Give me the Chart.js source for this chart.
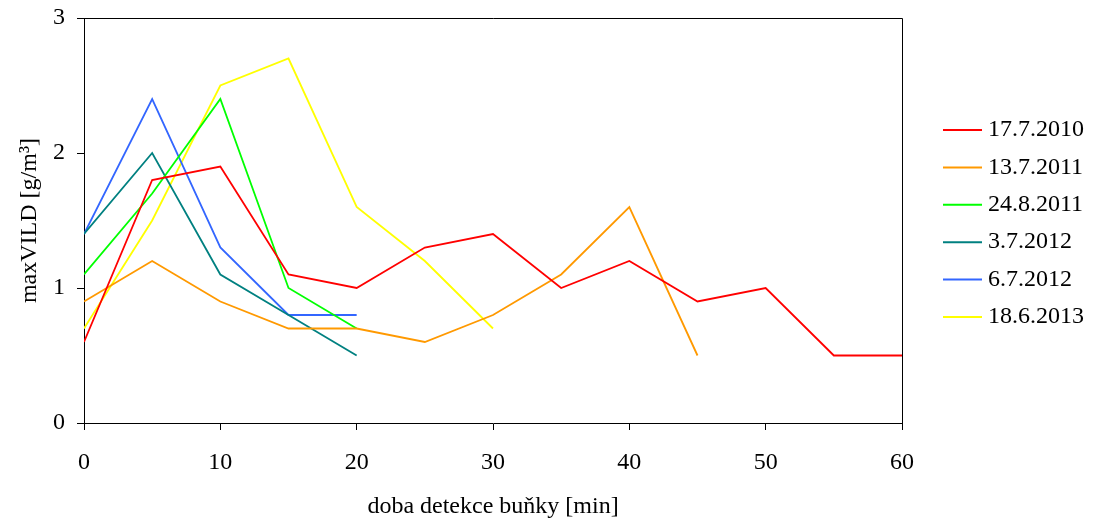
<!DOCTYPE html>
<html>
<head>
<meta charset="utf-8">
<script src="https://cdn.jsdelivr.net/npm/chart.js@4"></script>
<style>
  body { margin: 0; background: #fff; }
  #wrap { width: 1098px; height: 525px; }
</style>
</head>
<body>
<div id="wrap"><canvas id="vildChart"></canvas></div>
<script>
// doba detekce (min)
const minutes = [0, 5, 10, 15, 20, 25, 30, 35, 40, 45, 50, 55, 60];

// maxVILD pro jednotlivé dny
const vild_17_7_2010 = [0.6, 1.8, 1.9, 1.1, 1.0, 1.3, 1.4, 1.0, 1.2, 0.9, 1.0, 0.5, 0.5];
const vild_13_7_2011 = [0.9, 1.2, 0.9, 0.7, 0.7, 0.6, 0.8, 1.1, 1.6, 0.5];
const vild_24_8_2011 = [1.1, 1.7, 2.4, 1.0, 0.7];
const vild_3_7_2012 = [1.4, 2.0, 1.1, 0.8, 0.5];
const vild_6_7_2012 = [1.4, 2.4, 1.3, 0.8, 0.8];
const vild_18_6_2013 = [0.7, 1.5, 2.5, 2.7, 1.6, 1.2, 0.7];

const seriesNames = ["17.7.2010", "13.7.2011", "24.8.2011", "3.7.2012", "6.7.2012", "18.6.2013"];
const seriesValues = [vild_17_7_2010, vild_13_7_2011, vild_24_8_2011, vild_3_7_2012, vild_6_7_2012, vild_18_6_2013];
const seriesColors = ["#ff0000", "#ff9900", "#00ff00", "#008080", "#3366ff", "#ffff00"];

const serif = "'Liberation Serif', 'Times New Roman', serif";

// rámeček kolem plochy grafu
const frame = {
  id: "frame",
  afterDraw(chart) {
    const a = chart.chartArea;
    const ctx = chart.ctx;
    ctx.save();
    ctx.strokeStyle = "#000";
    ctx.lineWidth = 1;
    ctx.beginPath();
    ctx.moveTo(Math.round(a.left), Math.round(a.top) + 0.5);
    ctx.lineTo(Math.round(a.right) + 0.5, Math.round(a.top) + 0.5);
    ctx.lineTo(Math.round(a.right) + 0.5, Math.round(a.bottom));
    ctx.stroke();
    ctx.restore();
  },
};

// legenda vpravo od grafu
const sideLegend = {
  id: "sideLegend",
  afterDraw(chart) {
    const ctx = chart.ctx;
    const x0 = chart.chartArea.right + 41;
    ctx.save();
    ctx.font = "24px " + serif;
    ctx.textBaseline = "middle";
    ctx.fillStyle = "#000";
    chart.data.datasets.forEach((ds, i) => {
      const y = 130 + i * 37.4;
      ctx.strokeStyle = ds.borderColor;
      ctx.lineWidth = 2;
      ctx.beginPath();
      ctx.moveTo(x0, y);
      ctx.lineTo(x0 + 39, y);
      ctx.stroke();
      ctx.fillText(ds.label, x0 + 45, y);
    });
    ctx.restore();
  },
};

new Chart("vildChart", {
  type: "line",
  data: {
    datasets: seriesNames.map((name, i) => ({
      label: name,
      data: seriesValues[i].map((v, j) => ({ x: minutes[j], y: v })),
      borderColor: seriesColors[i],
      backgroundColor: seriesColors[i],
      borderWidth: 1.8,
      pointRadius: 0,
      tension: 0,
      fill: false,
    })),
  },
  options: {
    responsive: true,
    maintainAspectRatio: false,
    animation: false,
    layout: { padding: { left: 0, right: 196, top: 18, bottom: 0 } },
    plugins: {
      tooltip: { enabled: false },
      legend: { display: false },
    },
    scales: {
      x: {
        type: "linear",
        min: 0,
        max: 60,
        afterFit(scale) {
          scale.height = 102;
          scale.paddingLeft = 0;
          scale.paddingRight = 0;
        },
        ticks: { stepSize: 10, color: "#000", padding: 18, font: { family: serif, size: 24 } },
        grid: { drawOnChartArea: false, drawTicks: true, tickLength: 7, tickColor: "#000" },
        border: { color: "#000" },
        title: { display: true, text: "doba detekce buňky [min]", color: "#000", padding: { top: 0, bottom: 4 }, font: { family: serif, size: 24 } },
      },
      y: {
        min: 0,
        max: 3,
        afterFit(scale) {
          scale.width = 84;
          scale.paddingTop = 0;
          scale.paddingBottom = 0;
        },
        ticks: { stepSize: 1, color: "#000", padding: 12, font: { family: serif, size: 24 } },
        grid: { drawOnChartArea: false, drawTicks: true, tickLength: 7, tickColor: "#000" },
        border: { color: "#000" },
        title: { display: true, text: "maxVILD [g/m³]", color: "#000", padding: { top: 15, bottom: 0 }, font: { family: serif, size: 24 } },
      },
    },
  },
  plugins: [frame, sideLegend],
});
</script>
</body>
</html>
